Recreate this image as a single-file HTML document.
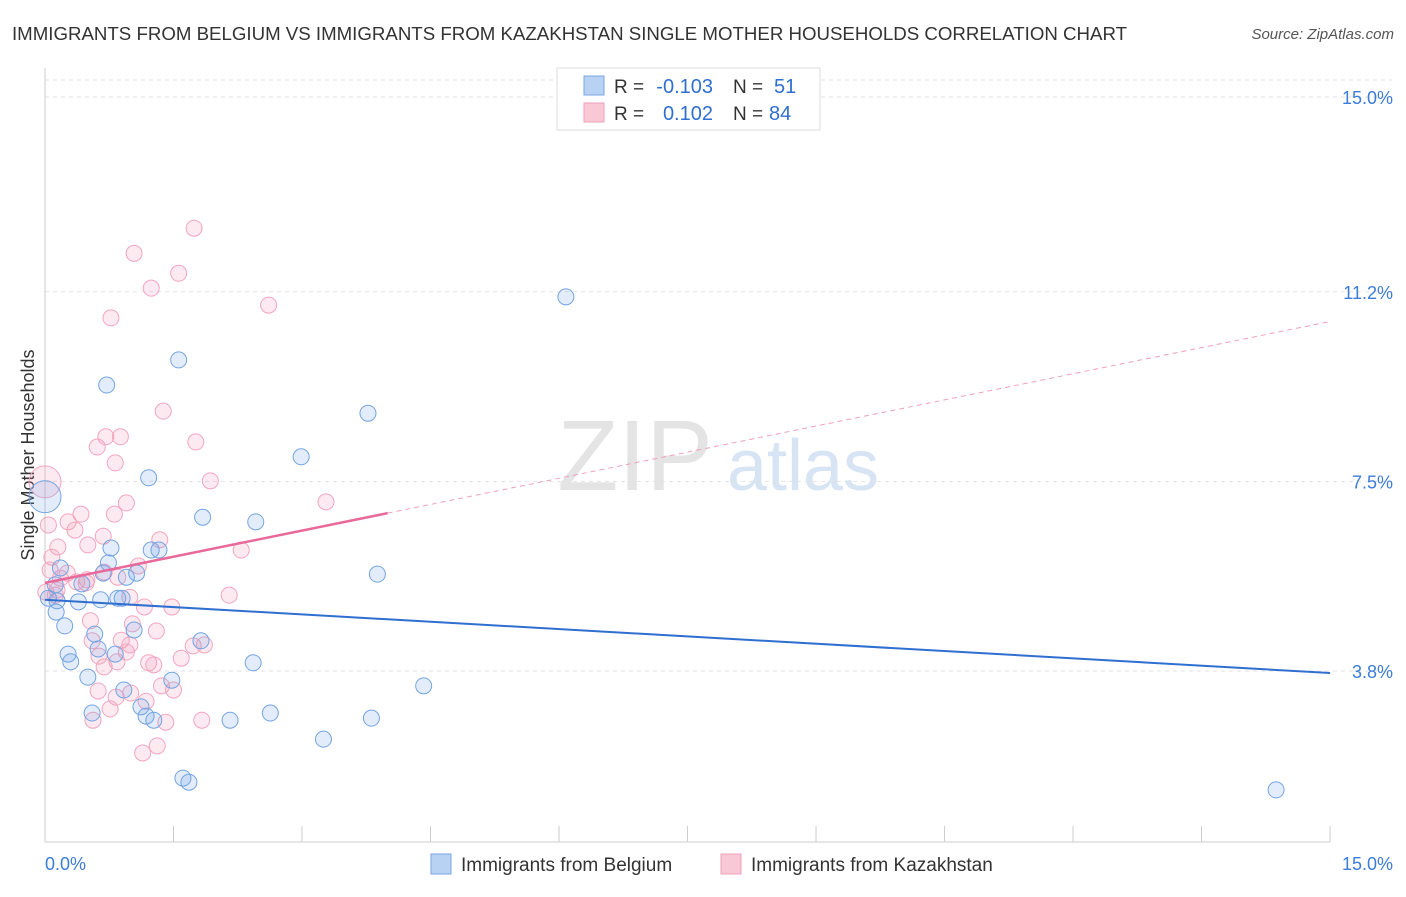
<!DOCTYPE html>
<html><head><meta charset="utf-8"><style>
body{margin:0;background:#fff;font-family:"Liberation Sans",sans-serif}
svg text{font-family:"Liberation Sans",sans-serif}
</style></head><body>
<svg id="c" width="1406" height="892" xmlns="http://www.w3.org/2000/svg">
<text x="12" y="40" font-size="18.5" fill="#333" textLength="1115" lengthAdjust="spacingAndGlyphs">IMMIGRANTS FROM BELGIUM VS IMMIGRANTS FROM KAZAKHSTAN SINGLE MOTHER HOUSEHOLDS CORRELATION CHART</text>
<text x="1394" y="39" font-size="15" fill="#555" font-style="italic" text-anchor="end">Source: ZipAtlas.com</text>
<text x="635" y="490" font-size="100" fill="#e4e4e4" font-family="Liberation Serif" text-anchor="middle">ZIP</text>
<text x="803" y="490" font-size="72" fill="#d6e4f4" text-anchor="middle">atlas</text>
<text x="34" y="455" font-size="18" fill="#333" text-anchor="middle" transform="rotate(-90 34 455)">Single Mother Households</text>
<g id="grid"></g><g id="marks"></g><g id="lines"></g>
<g>
<rect x="557" y="68" width="263" height="62" fill="#fff" stroke="#ddd"/>
<rect x="584" y="76" width="20" height="19" fill="#b8d2f4" stroke="#7aa6e0"/>
<rect x="584" y="103" width="20" height="19" fill="#f9c8d6" stroke="#f0a0b8"/>
<text x="614" y="93" font-size="19" fill="#333">R =</text>
<text x="713" y="93" font-size="20" fill="#2f6fd0" text-anchor="end">-0.103</text>
<text x="733" y="93" font-size="19" fill="#333">N =</text>
<text x="774" y="93" font-size="20" fill="#2f6fd0">51</text>
<text x="614" y="120" font-size="19" fill="#333">R =</text>
<text x="713" y="120" font-size="20" fill="#2f6fd0" text-anchor="end">0.102</text>
<text x="733" y="120" font-size="19" fill="#333">N =</text>
<text x="769" y="120" font-size="20" fill="#2f6fd0">84</text>
</g>
<g>
<rect x="431" y="854" width="20" height="20" fill="#b8d2f4" stroke="#7aa6e0"/>
<text x="461" y="871" font-size="19" fill="#333">Immigrants from Belgium</text>
<rect x="721" y="854" width="20" height="20" fill="#f9c8d6" stroke="#f0a0b8"/>
<text x="751" y="871" font-size="19" fill="#333">Immigrants from Kazakhstan</text>
</g>
</svg>
<script>
const yTicks=[15.0,11.2,7.5,3.8];
const yTickLabels=["15.0%","11.2%","7.5%","3.8%"];
const xTickLabels=["0.0%","15.0%"];
const belgiumX=[0,6.08,1.56,.72,3.77,2.99,1.21,1.84,2.46,.77,1.24,1.33,3.88,1.07,.95,.74,.43,.12,.18,.04,.14,.39,.65,.85,.90,.13,.23,.58,1.04,1.82,.27,.62,.82,.30,2.43,.50,1.48,.92,4.42,1.12,.55,1.18,1.27,2.16,2.63,3.81,3.25,1.61,1.68,14.37,.68];
const belgiumY=[7.20,11.10,9.87,9.38,8.83,7.98,7.57,6.80,6.71,6.20,6.16,6.16,5.69,5.71,5.63,5.91,5.50,5.48,5.81,5.22,5.17,5.15,5.19,5.22,5.22,4.95,4.68,4.52,4.60,4.39,4.13,4.23,4.13,3.98,3.96,3.68,3.62,3.43,3.51,3.10,2.98,2.92,2.84,2.84,2.98,2.88,2.47,1.71,1.63,1.48,5.71];
const kazX=[1.74,1.04,1.56,1.24,2.61,.77,1.38,.88,.71,.61,1.76,.82,1.93,0,3.28,.95,.42,.81,.27,.04,.35,.68,1.34,.15,.50,.08,2.29,1.09,.06,.26,.69,.85,.18,.49,.37,.14,.01,.12,.48,.99,2.15,1.16,1.48,1.02,.53,1.30,.89,1.73,1.86,.55,.99,.63,.95,1.59,1.21,1.27,.69,.84,1.36,1.50,.62,1.00,.83,1.18,.76,.56,1.41,1.83,1.31,1.14];
const kazY=[12.44,11.95,11.56,11.27,10.94,10.69,8.87,8.37,8.37,8.17,8.27,7.86,7.51,7.49,7.10,7.08,6.86,6.86,6.71,6.65,6.55,6.43,6.36,6.22,6.26,6.02,6.16,5.85,5.77,5.71,5.73,5.63,5.61,5.58,5.54,5.38,5.34,5.28,5.52,5.24,5.28,5.05,5.05,4.72,4.78,4.58,4.40,4.29,4.31,4.39,4.31,4.09,4.17,4.05,3.96,3.92,3.88,3.98,3.51,3.43,3.41,3.37,3.29,3.21,3.06,2.84,2.80,2.84,2.34,2.20];
const belgiumTrend=[5.19,-0.0953];
const kazTrend=[5.52,0.34];
const NS="http://www.w3.org/2000/svg";
const X=v=>45+v*85.67, Y=v=>97+(15-v)*51.25;
function mk(t,a,p){const e=document.createElementNS(NS,t);for(const k in a)e.setAttribute(k,a[k]);p.appendChild(e);return e;}
const grid=document.getElementById('grid'),marks=document.getElementById('marks'),lines=document.getElementById('lines');
let g=mk('line',{x1:45,x2:1392,y1:80,y2:80,stroke:'#e2e2e2','stroke-dasharray':'4 4'},grid);


yTicks.forEach((v,i)=>{
 const l=mk('line',{x1:45,x2:1392,y1:Y(v),y2:Y(v),stroke:'#e2e2e2','stroke-dasharray':'4 4'},grid);
 
 
 const t=mk('text',{x:1393,y:Y(v)+7,'font-size':18,fill:'#3b7dd8','text-anchor':'end'},grid);t.textContent=yTickLabels[i];
 
 
});
const ax=mk('line',{x1:45,x2:45,y1:68,y2:842,stroke:'#ccc'},grid);


const bx=mk('line',{x1:45,x2:1330,y1:842,y2:842,stroke:'#ccc'},grid);


for(let i=0;i<=10;i++){const t=mk('line',{x1:X(i*1.5),x2:X(i*1.5),y1:826,y2:842,stroke:'#ccc'},grid);
 
 }
[[0,'start',45],[1,'end',1393]].forEach(([i,a,x])=>{const t=mk('text',{x:x,y:870,'font-size':18,fill:'#3b7dd8','text-anchor':a},grid);t.textContent=xTickLabels[i];
 
 });
function pts(xs,ys,fill,stroke,name){xs.forEach((x,i)=>{const r=(x===0)?16:8;
 const c=mk('circle',{cx:X(x),cy:Y(ys[i]),r:r,fill:fill,stroke:stroke,'stroke-width':1},marks);
 
 });}
pts(kazX,kazY,'rgba(244,150,180,0.2)','#f2a6bd','point-kazakhstan');
pts(belgiumX,belgiumY,'rgba(110,160,230,0.2)','#74a4e2','point-belgium');
let l1=mk('line',{x1:X(0),y1:Y(belgiumTrend[0]),x2:X(15),y2:Y(belgiumTrend[0]+15*belgiumTrend[1]),stroke:'#2f6fd0','stroke-width':2},lines);


let l2=mk('line',{x1:X(0),y1:Y(kazTrend[0]),x2:X(4),y2:Y(kazTrend[0]+4*kazTrend[1]),stroke:'#e8699a','stroke-width':2.5},lines);


let l3=mk('line',{x1:X(4),y1:Y(kazTrend[0]+4*kazTrend[1]),x2:X(15),y2:Y(kazTrend[0]+15*kazTrend[1]),stroke:'#f0a0b8','stroke-width':1,'stroke-dasharray':'5 4'},lines);


</script>
</body></html>
